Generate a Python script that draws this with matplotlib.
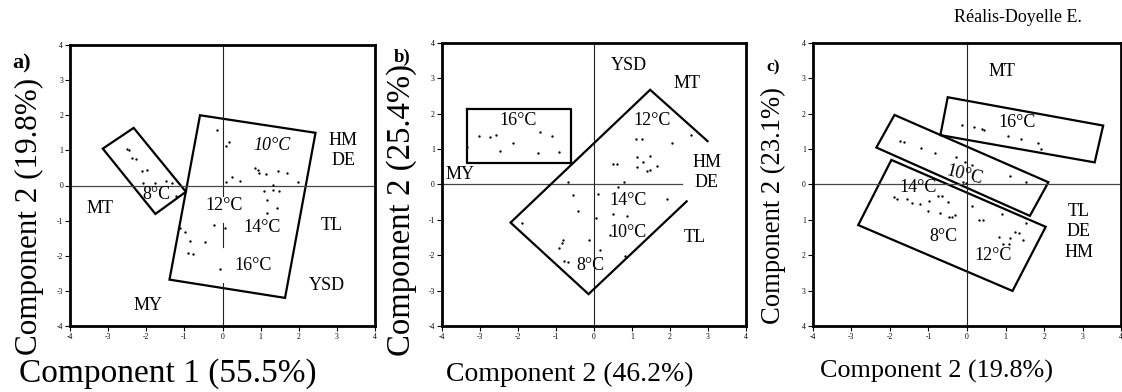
import matplotlib
matplotlib.use("Agg")
import matplotlib.pyplot as plt

plt.rcParams["font.family"] = ["Liberation Serif", "DejaVu Serif"]

# ---- panel a ----
a_dots_x = [-2.50, -2.44, -2.37, -2.26, -2.12, -1.99, -1.49, -1.32, -1.21, -2.09, -1.77,
            -0.14, 0.08, 0.17, 0.25, 0.08, 0.46, 0.86, 0.92, 0.97, 1.14, 1.46, 1.68, 1.99,
            1.32, 1.09, 1.32, 1.48, 1.18, 1.18, 1.43,
            -1.12, -0.99, -0.85, -0.46, -0.90, -0.77, -0.22, 0.07, -0.07]
a_dots_y = [1.05, 1.00, 0.77, 0.76, 0.41, 0.44, 0.13, 0.06, -0.30, 0.06, 0.06,
            1.58, 1.13, 1.24, 0.24, 0.10, 0.13, 0.50, 0.44, 0.37, 0.34, 0.41, 0.36, 0.10,
            0.01, -0.15, -0.13, -0.16, -0.42, -0.77, -0.65,
            -1.22, -1.32, -1.59, -1.60, -1.91, -1.96, -1.13, -1.21, -2.39]
a_boxes = [
    ([-3.14, -2.33, -0.96, -1.76], [1.05, 1.64, -0.18, -0.81]),
    ([-0.59, 2.44, 1.64, -1.39], [2.00, 1.50, -3.20, -2.68]),
]
a_labels = ["10°C", "HM\nDE", "8°C", "MT", "12°C", "14°C", "TL", "16°C", "YSD", "MY"]
a_label_x = [1.29, 3.17, -1.73, -3.20, 0.05, 1.05, 2.86, 0.81, 2.73, -1.95]
a_label_y = [1.15, 1.00, -0.25, -0.65, -0.56, -1.20, -1.13, -2.27, -2.84, -3.41]
a_vline_segments = [(4.0, -0.30), (-1.07, -1.75), (-2.78, -4.0)]
a_hline_span = (-4.0, 4.0)

# ---- panel b ----
b_dots_x = [-3.02, -2.73, -2.57, -2.12, -2.47, -1.41, -1.11, -1.47, -0.91, -3.34,
            1.11, 1.26, 2.05, 2.55, 0.50, 0.60, 1.13, 1.13, 1.29, 1.48, 1.39, 1.48, 1.65,
            -0.67, 0.80, 0.64, -0.54, 0.12, 1.92, -0.42, 0.06, 0.50, 0.88, -1.90,
            0.43, -0.12, -0.80, -0.84, -0.92, 0.16, 0.83, -0.78, -0.67]
b_dots_y = [1.36, 1.33, 1.40, 1.16, 0.94, 1.49, 1.36, 0.88, 0.92, 1.06,
            1.28, 1.27, 1.16, 1.39, 0.57, 0.57, 0.78, 0.50, 0.64, 0.80, 0.38, 0.40, 0.52,
            0.07, 0.07, -0.08, -0.30, -0.28, -0.40, -0.75, -0.96, -0.85, -0.90, -1.08,
            -1.43, -1.57, -1.57, -1.67, -1.81, -1.86, -2.03, -2.16, -2.19]
b_boxes = [
    ([-3.33, -0.59, -0.59, -3.33, -3.33], [2.12, 2.12, 0.60, 0.60, 2.12]),
    ([2.99, 1.48, -2.19, -0.14, 2.44], [1.22, 2.67, -1.08, -3.10, -0.48]),
]
b_labels = ["YSD", "MT", "16°C", "12°C", "HM\nDE", "MY", "14°C", "10°C", "TL", "8°C"]
b_label_x = [0.91, 2.44, -1.98, 1.52, 2.97, -3.52, 0.91, 0.91, 2.66, -0.10]
b_label_y = [3.36, 2.84, 1.79, 1.81, 0.33, 0.28, -0.45, -1.35, -1.51, -2.29]
b_vline_segments = [(4.0, -4.0)]
b_hline_span = (-4.0, 2.33)

# ---- panel c ----
c_dots_x = [-0.14, 0.19, 0.39, 0.45, 1.05, 1.41, 1.85, 1.93,
            -1.73, -1.64, -1.19, -0.82, -0.28, -0.04, 0.12, 1.11, 1.52, -0.11, -0.03,
            -1.90, -1.82, -1.55, -1.42, -1.23, -0.99, -0.75, -0.65, -0.50, -1.00, -0.69,
            -0.47, -0.40, -0.31, 0.13, 0.32, 0.42, 0.90, 1.54, 1.25, 1.35, 1.46, 0.82,
            1.11, 0.94, 1.09]
c_dots_y = [1.67, 1.63, 1.55, 1.53, 1.37, 1.28, 1.16, 1.00,
            1.22, 1.20, 1.02, 0.89, 0.76, 0.64, 0.54, 0.23, 0.07, 0.07, 0.03,
            -0.35, -0.40, -0.42, -0.54, -0.56, -0.47, -0.33, -0.32, -0.51, -0.75, -0.82,
            -0.91, -0.93, -0.87, -0.60, -1.01, -1.01, -0.85, -1.08, -1.34, -1.36, -1.57, -1.50,
            -1.51, -1.69, -1.69]
c_boxes = [
    ([-0.50, 3.53, 3.31, -0.69], [2.46, 1.66, 0.62, 1.39]),
    ([-1.88, 2.11, 1.63, -2.35], [1.96, 0.06, -0.89, 1.04]),
    ([-1.96, 2.04, 1.18, -2.82], [0.69, -1.20, -3.01, -1.15]),
]
c_labels = ["MT", "16°C", "10°C", "14°C", "8°C", "12°C", "TL\nDE\nHM"]
c_label_x = [0.92, 1.31, -0.07, -1.27, -0.61, 0.68, 2.90]
c_label_y = [3.18, 1.74, 0.26, -0.09, -1.48, -2.00, -1.34]
c_vline_segments = [(4.0, -4.0)]
c_hline_span = (-4.0, 4.0)

ticks = [-4, -3, -2, -1, 0, 1, 2, 3, 4]
tick_text = ["-4", "-3", "-2", "-1", "0", "1", "2", "3", "4"]
c_ytick_text = ["4", "3", "2", "1", "0", "1", "2", "3", "4"]

x_titles = ["Component 1 (55.5%)", "Component 2 (46.2%)", "Component 2 (19.8%)"]
y_titles = ["Component 2 (19.8%)", "Component 2 (25.4%)", "Component 2 (23.1%)"]
panel_tags = ["a)", "b)", "c)"]

W, H = 1122, 392


def fx(px):
    return px / W


def fy(py):
    return 1 - py / H


fig = plt.figure(figsize=(W / 100, H / 100), dpi=100)

# axes boxes in pixels: left, top, right, bottom
frames = [(70, 45, 375, 326), (441.7, 42.7, 746, 326), (812.7, 42.7, 1121.3, 326)]

panels = [
    (a_dots_x, a_dots_y, a_boxes, a_labels, a_label_x, a_label_y, a_vline_segments, a_hline_span, tick_text),
    (b_dots_x, b_dots_y, b_boxes, b_labels, b_label_x, b_label_y, b_vline_segments, b_hline_span, tick_text),
    (c_dots_x, c_dots_y, c_boxes, c_labels, c_label_x, c_label_y, c_vline_segments, c_hline_span, c_ytick_text),
]

label_styles = {
    (0, "10°C"): dict(style="italic"),
    (2, "10°C"): dict(rotation=-14),
}

for i, (frame, panel) in enumerate(zip(frames, panels)):
    dx, dy, boxes, labels, lx, ly, vsegs, hspan, ytext = panel
    l, t, r, b = frame
    ax = fig.add_axes([fx(l), fy(b), fx(r) - fx(l), fy(t) - fy(b)])
    ax.set_xlim(-4, 4)
    ax.set_ylim(-4, 4)

    for y0, y1 in vsegs:
        ax.plot([0, 0], [y0, y1], color="#222222", lw=0.8)
    ax.plot(list(hspan), [0, 0], color="#444444", lw=0.9)

    for bx, by in boxes:
        if bx[0] == bx[-1] and by[0] == by[-1]:
            ax.plot(bx, by, color="black", lw=1.6)
        elif len(bx) == 4:
            ax.fill(bx, by, facecolor="none", edgecolor="black", lw=1.6)
        else:
            ax.plot(bx, by, color="black", lw=1.6, solid_joinstyle="miter")

    ax.plot(dx, dy, "o", ms=1.7, mew=0, color="black")

    for txt, x, y in zip(labels, lx, ly):
        kw = label_styles.get((i, txt), {})
        ax.text(x, y, txt, ha="center", va="center", fontsize=13,
                linespacing=1.25, **kw)

    ax.set_xticks(ticks)
    ax.set_xticklabels(tick_text)
    ax.set_yticks(ticks)
    ax.set_yticklabels(ytext)
    ax.tick_params(direction="out", length=3.5, width=0.8, labelsize=5.5, pad=1.5)
    for sp in ax.spines.values():
        sp.set_linewidth(2.0)

# axis titles and panel tags (pixel centres)
xt_pos = [(168, 374), (570, 374), (937, 371)]
xt_size = [24, 20, 18.8]
yt_pos = [(29, 216), (402, 210), (773, 206)]
yt_size = [22.4, 23.6, 19.2]
tag_pos = [(22, 63), (402.5, 57), (773, 67)]
tag_size = [16, 13.5, 12.5]

for txt, (px, py), fs in zip(x_titles, xt_pos, xt_size):
    fig.text(fx(px), fy(py), txt, ha="center", va="center", fontsize=fs)
for txt, (px, py), fs in zip(y_titles, yt_pos, yt_size):
    fig.text(fx(px), fy(py), txt, ha="center", va="center", fontsize=fs, rotation=90)
for txt, (px, py), fs in zip(panel_tags, tag_pos, tag_size):
    fig.text(fx(px), fy(py), txt, ha="center", va="center", fontsize=fs, fontweight="bold")

fig.text(fx(1018), fy(17), "Réalis-Doyelle E.", ha="center", va="center", fontsize=13)

fig.savefig("out.png", dpi=100)
